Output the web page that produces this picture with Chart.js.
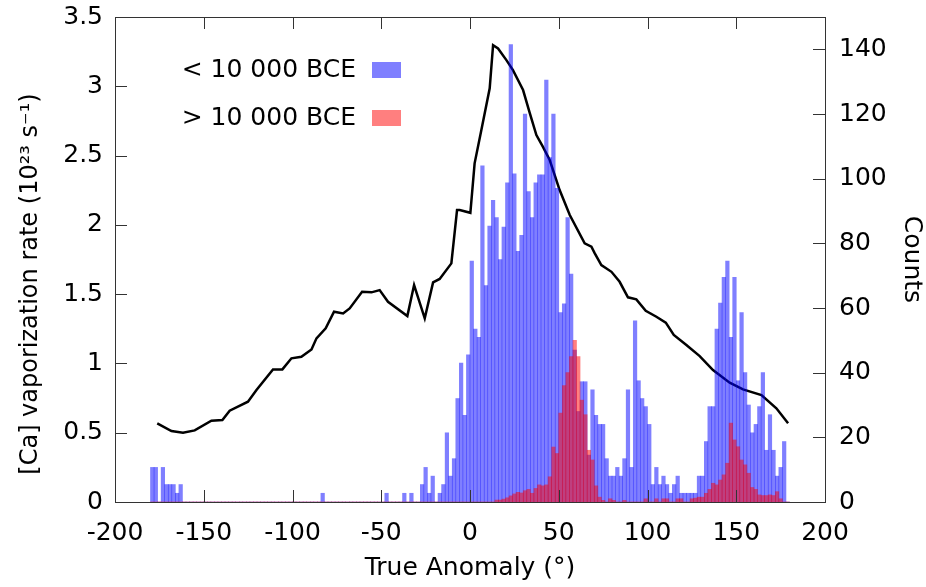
<!DOCTYPE html>
<html lang="en">
<head>
    <meta charset="UTF-8">
    <title>Ca vaporization rate vs true anomaly</title>
    <script src="https://cdn.jsdelivr.net/npm/chart.js"></script>
    <style>
        html, body { margin: 0; padding: 0; background: #fff; }
        .chart-box { width: 926px; height: 587px; position: relative; }
    </style>
</head>
<body>
    <div class="chart-box"><canvas id="anomalyChart"></canvas></div>
    <script>
        // histogram bins (centres, degrees)
        const binCenters = [
            -179,-177,-175,-173,-171,-169,-167,-165,-163,-161,-159,-157,-155,-153,-151,
            -149,-147,-145,-143,-141,-139,-137,-135,-133,-131,-129,-127,-125,-123,-121,
            -119,-117,-115,-113,-111,-109,-107,-105,-103,-101,-99,-97,-95,-93,-91,
            -89,-87,-85,-83,-81,-79,-77,-75,-73,-71,-69,-67,-65,-63,-61,
            -59,-57,-55,-53,-51,-49,-47,-45,-43,-41,-39,-37,-35,-33,-31,
            -29,-27,-25,-23,-21,-19,-17,-15,-13,-11,-9,-7,-5,-3,-1,
            1,3,5,7,9,11,13,15,17,19,21,23,25,27,29,
            31,33,35,37,39,41,43,45,47,49,51,53,55,57,59,
            61,63,65,67,69,71,73,75,77,79,81,83,85,87,89,
            91,93,95,97,99,101,103,105,107,109,111,113,115,117,119,
            121,123,125,127,129,131,133,135,137,139,141,143,145,147,149,
            151,153,155,157,159,161,163,165,167,169,171,173,175,177,179
        ];
        // counts, < 10 000 BCE
        const countsRecent = [
            10.7,10.7,0,10.7,5.4,5.4,5.4,2.7,5.4,0,0,0,0,0,0,
            0,0,0,0,0,0,0,0,0,0,0,0,0,0,0,
            0,0,0,0,0,0,0,0,0,0,0,0,0,0,0,
            0,0,0,2.7,0,0,0,0,0,0,0,0,0,0,0,
            0,0,0,0,0,0,2.7,0,0,0,0,2.7,0,2.7,0,
            0,5.4,10.7,2.7,8,0,2.7,5.4,21.4,8,13.4,32,43,26.8,45.5,
            74.5,53.5,50.9,104,66.9,85.3,93.3,88,75,85,98.7,141.5,101.5,77.5,82.5,
            120,96,88,98.7,101.2,101.2,130.5,106.5,120,97,58.6,61.3,88,70.5,47,
            28,37.2,37.2,14.5,34.7,26.8,24,24,13.4,8,8,10.7,8,13.4,34.7,
            10.7,56,37.5,32,29.5,24,5.4,10.7,5.4,8,5.4,2.7,5.4,8,2.7,
            2.7,2.7,2.7,2.7,8,8,18.7,29.5,29.5,53.5,61.5,69.5,74.5,50.9,69.5,
            37.5,58.6,40,30,21.4,24,29.5,40,16,27,16,8,10.7,18.7,0
        ];
        // counts, > 10 000 BCE
        const countsOld = [
            0,0,0,0,0,0,0,0,0,0,0,0,0,0,0,
            0,0,0,0,0,0,0,0,0,0,0,0,0,0,0,
            0,0,0,0,0,0,0,0,0,0,0,0,0,0,0,
            0,0,0,0,0,0,0,0,0,0,0,0,0,0,0,
            0,0,0,0,0,0,0,0,0,0,0,0,0,0,0,
            0,0,0,0,0,0,0,0,0,0,0,0,0,0,0,
            0,0,0,0,0,0,0,0.6,0.6,0.9,1.3,1.9,2.5,3,2.8,
            3.5,3.9,2.7,4.2,5.3,5,5.3,7.8,17,15,27.5,36,40,45,50,
            45,31.5,27,16,13,5,1.5,0.5,0,1,0.5,0,0,0.5,0,
            0,0,0,0,1,0,0,1,0,1,1,0,0,1,1,
            0,0,1,1.2,1.5,1.5,2.7,3.9,5.8,5.3,6.8,8.4,12,24.4,19.2,
            17.1,13,11.5,8.9,4.5,3.9,2.2,2,2,2.2,2,3.2,1,0,0
        ];
        // vaporization rate curve
        const rateAnomaly = [
            -176.2,-168.2,-161.7,-155.1,-145.7,-139.5,-135.4,-125.1,-120.3,-111,-105.7,-100.6,-95,-89.3,-86.5,
            -81.3,-76.6,-71.5,-67.8,-60.8,-55.5,-50.9,-46.2,-35.3,-31.5,-25.5,-20.8,-17.1,-10.5,-7.3,-5.8,
            0.2,2.6,6.4,11.1,13,15.8,20.5,24.2,29.9,33.6,37.4,41.1,44.9,50.5,56.2,64.6,68.4,70.3,74,79.7,
            84.3,89,93.7,99,105,110.3,114.8,121.9,129.4,136.9,146.3,153.8,164.2,172.6,179.2
        ];
        const rateValues = [
            0.568,0.512,0.5,0.517,0.587,0.592,0.659,0.724,0.808,0.957,0.957,1.037,1.048,1.101,1.181,
            1.253,1.373,1.361,1.397,1.517,1.513,1.529,1.445,1.342,1.566,1.325,1.585,1.61,1.722,2.107,2.107,
            2.087,2.444,2.684,2.985,3.297,3.273,3.189,3.117,2.973,2.81,2.648,2.563,2.468,2.251,2.071,1.866,1.842,1.794,1.71,1.661,
            1.589,1.477,1.462,1.38,1.337,1.294,1.205,1.133,1.053,0.952,0.861,0.813,0.772,0.676,0.568
        ];
        const seriesNames = ['< 10 000 BCE', '> 10 000 BCE'];
        const xTicks = [-200, -150, -100, -50, 0, 50, 100, 150, 200];
        const yTitle = '[Ca] vaporization rate (10²³ s⁻¹)';

        const BLUE = 'rgba(0,0,255,0.5)';
        const RED = 'rgba(255,0,0,0.5)';

        Chart.defaults.font.family = "'DejaVu Sans', sans-serif";
        Chart.defaults.font.size = 25;
        Chart.defaults.color = '#000';

        // border box + inward ticks, gnuplot style
        const framePlugin = {
            id: 'frame',
            afterDatasetsDraw(chart) {
                const { ctx, chartArea: a, scales } = chart;
                const L = 12;
                ctx.save();
                ctx.strokeStyle = '#333';
                ctx.lineWidth = 1;
                ctx.beginPath();
                scales.x.ticks.forEach(t => {
                    const px = Math.round(scales.x.getPixelForValue(t.value)) + 0.5;
                    ctx.moveTo(px, a.bottom); ctx.lineTo(px, a.bottom - L);
                    ctx.moveTo(px, a.top); ctx.lineTo(px, a.top + L);
                });
                scales.y.ticks.forEach(t => {
                    const py = Math.round(scales.y.getPixelForValue(t.value)) + 0.5;
                    ctx.moveTo(a.left, py); ctx.lineTo(a.left + L, py);
                });
                scales.y2.ticks.forEach(t => {
                    const py = Math.round(scales.y2.getPixelForValue(t.value)) + 0.5;
                    ctx.moveTo(a.right, py); ctx.lineTo(a.right - L, py);
                });
                ctx.stroke();
                ctx.strokeRect(Math.round(a.left) + 0.5, Math.round(a.top) + 0.5,
                    Math.round(a.right - a.left), Math.round(a.bottom - a.top));
                ctx.restore();
            }
        };

        // key in the upper left corner, and the left axis title
        const keyPlugin = {
            id: 'key',
            afterDraw(chart) {
                const { ctx } = chart;
                const colors = [BLUE, RED];
                ctx.save();
                ctx.font = "25px 'DejaVu Sans', sans-serif";
                ctx.textAlign = 'right';
                ctx.textBaseline = 'middle';
                seriesNames.forEach((name, i) => {
                    const yc = 70 + i * 48;
                    ctx.fillStyle = '#000';
                    ctx.fillText(name, 356, yc);
                    ctx.fillStyle = colors[i];
                    ctx.fillRect(372, yc - 8, 29, 16);
                });
                ctx.translate(31, 284);
                ctx.rotate(-Math.PI / 2);
                ctx.textAlign = 'center';
                ctx.fillStyle = '#000';
                ctx.font = "24px 'DejaVu Sans', sans-serif";
                ctx.fillText(yTitle, 0, 0);
                ctx.restore();
            }
        };

        // keep tick labels from pushing the plot area around
        const noLabelPad = s => { s.paddingTop = 0; s.paddingBottom = 0; };

        new Chart(document.getElementById('anomalyChart'), {
            type: 'bar',
            data: {
                datasets: [
                    {
                        type: 'line',
                        label: 'rate',
                        data: rateAnomaly.map((x, i) => ({ x, y: rateValues[i] })),
                        yAxisID: 'y',
                        borderColor: '#000',
                        borderWidth: 2.5,
                        pointRadius: 0,
                        tension: 0,
                        order: 3
                    },
                    {
                        label: seriesNames[0],
                        data: binCenters.map((x, i) => ({ x, y: countsRecent[i] })),
                        yAxisID: 'y2',
                        backgroundColor: BLUE,
                        borderWidth: 0,
                        grouped: false,
                        barPercentage: 1,
                        categoryPercentage: 1,
                        order: 2
                    },
                    {
                        label: seriesNames[1],
                        data: binCenters.map((x, i) => ({ x, y: countsOld[i] })),
                        yAxisID: 'y2',
                        backgroundColor: RED,
                        borderWidth: 0,
                        grouped: false,
                        barPercentage: 1,
                        categoryPercentage: 1,
                        order: 1
                    }
                ]
            },
            options: {
                responsive: true,
                maintainAspectRatio: false,
                animation: false,
                layout: { padding: { top: 17, left: 0, right: 0, bottom: 0 } },
                plugins: { legend: { display: false }, tooltip: { enabled: false } },
                scales: {
                    x: {
                        type: 'linear',
                        min: -200, max: 200,
                        offset: false,
                        afterBuildTicks: s => { s.ticks = xTicks.map(v => ({ value: v })); },
                        afterFit: s => { s.height = 85; },
                        grid: { display: false, drawTicks: false, tickLength: 0 },
                        border: { display: false },
                        ticks: { padding: 16, maxRotation: 0, callback: v => String(v) },
                        title: { display: true, text: 'True Anomaly (°)', padding: { top: 0, bottom: 4 } }
                    },
                    y: {
                        position: 'left',
                        min: 0, max: 3.5,
                        afterFit: s => { s.width = 115; noLabelPad(s); },
                        grid: { display: false, drawTicks: false, tickLength: 0 },
                        border: { display: false },
                        ticks: { stepSize: 0.5, padding: 12, callback: v => String(v) }
                    },
                    y2: {
                        position: 'right',
                        min: 0, max: 150,
                        afterBuildTicks: s => { s.ticks = s.ticks.filter(t => t.value <= 140); },
                        afterFit: s => { s.width = 101; noLabelPad(s); },
                        grid: { display: false, drawTicks: false, tickLength: 0 },
                        border: { display: false },
                        ticks: { stepSize: 20, padding: 14, callback: v => String(v) },
                        title: { display: true, text: 'Counts', padding: { top: 0, bottom: 4 } }
                    }
                }
            },
            plugins: [framePlugin, keyPlugin]
        });
    </script>
</body>
</html>
